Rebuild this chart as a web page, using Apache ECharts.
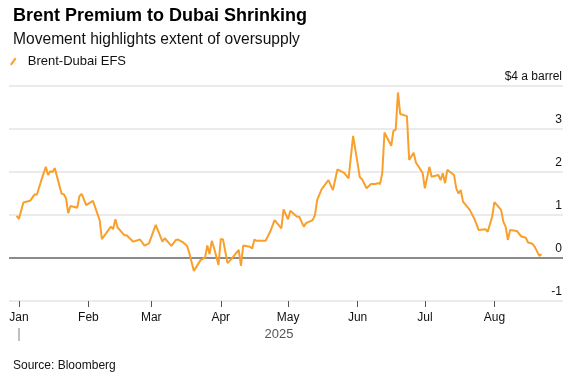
<!DOCTYPE html>
<html>
<head>
<meta charset="utf-8">
<script src="https://cdn.jsdelivr.net/npm/echarts@6/dist/echarts.min.js"></script>
<style>
  html, body { margin: 0; padding: 0; background: #fff; }
  #chart { width: 570px; height: 376px; }
</style>
</head>
<body>
<div id="chart"></div>
<script>
// Brent-Dubai EFS, $ a barrel
var dates = [
  '2024-12-31', '2025-01-01', '2025-01-03', '2025-01-06', '2025-01-08', '2025-01-09', '2025-01-11', '2025-01-13',
  '2025-01-14', '2025-01-15', '2025-01-16', '2025-01-17', '2025-01-20', '2025-01-21', '2025-01-22', '2025-01-23',
  '2025-01-24', '2025-01-27', '2025-01-28', '2025-01-29', '2025-01-31', '2025-02-03', '2025-02-06', '2025-02-07',
  '2025-02-11', '2025-02-12', '2025-02-13', '2025-02-14', '2025-02-17', '2025-02-18', '2025-02-21', '2025-02-24',
  '2025-02-26', '2025-02-28', '2025-03-03', '2025-03-06', '2025-03-07', '2025-03-10', '2025-03-12', '2025-03-13',
  '2025-03-15', '2025-03-17', '2025-03-18', '2025-03-20', '2025-03-23', '2025-03-25', '2025-03-26', '2025-03-27',
  '2025-03-28', '2025-03-29', '2025-03-31', '2025-04-01', '2025-04-02', '2025-04-04', '2025-04-06', '2025-04-09',
  '2025-04-10', '2025-04-11', '2025-04-14', '2025-04-15', '2025-04-16', '2025-04-17', '2025-04-21', '2025-04-23',
  '2025-04-25', '2025-04-28', '2025-04-29', '2025-05-01', '2025-05-02', '2025-05-05', '2025-05-06', '2025-05-08',
  '2025-05-09', '2025-05-12', '2025-05-13', '2025-05-14', '2025-05-16', '2025-05-19', '2025-05-21', '2025-05-23',
  '2025-05-26', '2025-05-28', '2025-05-30', '2025-06-02', '2025-06-03', '2025-06-05', '2025-06-07', '2025-06-09',
  '2025-06-10', '2025-06-11', '2025-06-12', '2025-06-13', '2025-06-16', '2025-06-17', '2025-06-18', '2025-06-19',
  '2025-06-20', '2025-06-23', '2025-06-24', '2025-06-26', '2025-06-27', '2025-06-30', '2025-07-01', '2025-07-03',
  '2025-07-04', '2025-07-07', '2025-07-08', '2025-07-09', '2025-07-10', '2025-07-11', '2025-07-14', '2025-07-15',
  '2025-07-16', '2025-07-17', '2025-07-18', '2025-07-21', '2025-07-23', '2025-07-25', '2025-07-28', '2025-07-29',
  '2025-07-31', '2025-08-01', '2025-08-04', '2025-08-05', '2025-08-06', '2025-08-07', '2025-08-08', '2025-08-11',
  '2025-08-13', '2025-08-15', '2025-08-16', '2025-08-18', '2025-08-19', '2025-08-21', '2025-08-22'
];
var values = [
  0.98, 0.91, 1.29, 1.33, 1.48, 1.47, 1.81, 2.12,
  1.93, 2.02, 2.00, 2.09, 1.50, 1.48, 1.39, 1.04,
  1.21, 1.17, 1.44, 1.49, 1.23, 1.33, 0.88, 0.44,
  0.73, 0.67, 0.90, 0.71, 0.53, 0.53, 0.38, 0.43,
  0.29, 0.34, 0.77, 0.38, 0.46, 0.28, 0.42, 0.43,
  0.37, 0.28, 0.11, -0.30, -0.05, 0.01, 0.29, 0.09,
  0.40, 0.23, -0.16, 0.44, 0.43, -0.12, -0.01, 0.19,
  -0.18, 0.29, 0.26, 0.22, 0.43, 0.40, 0.40, 0.61,
  0.88, 0.69, 1.13, 0.90, 1.10, 0.96, 0.96, 0.73,
  0.81, 0.88, 1.00, 1.35, 1.60, 1.81, 1.58, 2.06,
  1.98, 1.85, 2.84, 1.88, 1.83, 1.62, 1.72, 1.72,
  1.74, 1.72, 1.97, 2.92, 2.61, 2.96, 2.98, 3.85,
  3.35, 3.30, 2.28, 2.45, 2.22, 1.98, 1.62, 2.12,
  1.89, 1.93, 1.81, 1.97, 1.74, 2.05, 1.93, 1.62,
  1.50, 1.58, 1.31, 1.12, 0.92, 0.65, 0.67, 0.61,
  0.96, 1.30, 1.12, 0.84, 0.73, 0.42, 0.65, 0.63,
  0.50, 0.47, 0.36, 0.33, 0.26, 0.05, 0.09
];

var monthTicks = ['2025-01-01', '2025-02-01', '2025-03-01', '2025-04-01',
                  '2025-05-01', '2025-06-01', '2025-07-01', '2025-08-01'];
var monthNames = ['Jan', 'Feb', 'Mar', 'Apr', 'May', 'Jun', 'Jul', 'Aug', 'Sep', 'Oct', 'Nov', 'Dec'];
var yearTicks = ['2025-01-01'];
var yearLabel = '2025';
var yearLabelAt = '2025-04-27';
var axisStart = '2024-12-27 14:00';
var axisEnd = '2025-08-31 14:00';
var yTicks = [-1, 0, 1, 2, 3, 4];

var font = '"Liberation Sans", Arial, sans-serif';
var orange = '#f9a02c';

var parse = function (s) { return +echarts.time.parse(s); };
var seriesData = dates.map(function (d, i) { return [parse(d), values[i]]; });

var chart = echarts.init(document.getElementById('chart'), null, { renderer: 'canvas' });

var option = {
  animation: false,
  backgroundColor: '#fff',
  textStyle: { fontFamily: font },
  title: [{
    text: 'Brent Premium to Dubai Shrinking',
    left: 8, top: 2,
    textStyle: { fontFamily: font, fontSize: 18, fontWeight: 'bold', color: '#000' }
  }, {
    text: 'Movement highlights extent of oversupply',
    left: 8, top: 27,
    textStyle: { fontFamily: font, fontSize: 15.6, fontWeight: 'normal', color: '#111' }
  }, {
    text: 'Source: Bloomberg',
    left: 8, top: 355,
    textStyle: { fontFamily: font, fontSize: 12, fontWeight: 'normal', color: '#111' }
  }],
  legend: {
    left: 10, top: 55,
    padding: 0,
    itemWidth: 7, itemHeight: 8,
    icon: 'path://M0,7.2 L5.2,0 L7,1.4 L1.8,8.6 Z',
    textStyle: { fontFamily: font, fontSize: 13, color: '#111', padding: [0, 0, 0, 6] },
    data: ['Brent-Dubai EFS']
  },
  grid: {
    left: 9, right: 7, top: 86, bottom: 75,
    containLabel: false,
    outerBoundsMode: 'none'
  },
  // dates go on value axes as timestamps so custom month ticks can be used
  xAxis: [{
    type: 'value',
    min: parse(axisStart),
    max: parse(axisEnd),
    axisLine: { show: false, onZero: false },
    splitLine: { show: false },
    axisTick: {
      show: true,
      customValues: monthTicks.map(parse),
      length: 6,
      lineStyle: { color: '#555', width: 1 }
    },
    axisLabel: {
      customValues: monthTicks.map(parse),
      margin: 11,
      fontFamily: font, fontSize: 12, color: '#111',
      formatter: function (v) { return monthNames[new Date(v).getMonth()]; }
    }
  }, {
    type: 'value',
    position: 'bottom',
    offset: 27,
    min: parse(axisStart),
    max: parse(axisEnd),
    axisLine: { show: false, onZero: false },
    splitLine: { show: false },
    axisTick: {
      show: true,
      customValues: yearTicks.map(parse),
      length: 13,
      lineStyle: { color: '#aaa', width: 1.5 }
    },
    axisLabel: {
      customValues: [parse(yearLabelAt)],
      margin: 0,
      fontFamily: font, fontSize: 13, color: '#555',
      formatter: function () { return yearLabel; }
    }
  }],
  yAxis: {
    type: 'value',
    position: 'right',
    min: -1, max: 4, interval: 1,
    axisLine: { show: false },
    axisTick: { show: false },
    splitLine: { show: true, lineStyle: { color: '#e4e4e4', width: 1.5 } },
    axisLabel: {
      inside: true,
      margin: 1,
      verticalAlign: 'bottom',
      padding: [0, 0, 3, 0],
      fontFamily: font, fontSize: 12, color: '#111',
      formatter: function (v) { return v === yTicks[yTicks.length - 1] ? '$' + v + ' a barrel' : String(v); }
    }
  },
  series: [{
    name: 'Brent-Dubai EFS',
    type: 'line',
    xAxisIndex: 0,
    data: seriesData,
    showSymbol: false,
    symbol: 'none',
    itemStyle: { color: orange },
    lineStyle: { color: orange, width: 2 },
    z: 3,
    markLine: {
      silent: true,
      symbol: ['none', 'none'],
      label: { show: false },
      lineStyle: { color: '#8a8a8a', width: 2, type: 'solid' },
      data: [{ yAxis: 0 }],
      z: 2
    }
  }]
};

chart.setOption(option);
</script>
</body>
</html>
